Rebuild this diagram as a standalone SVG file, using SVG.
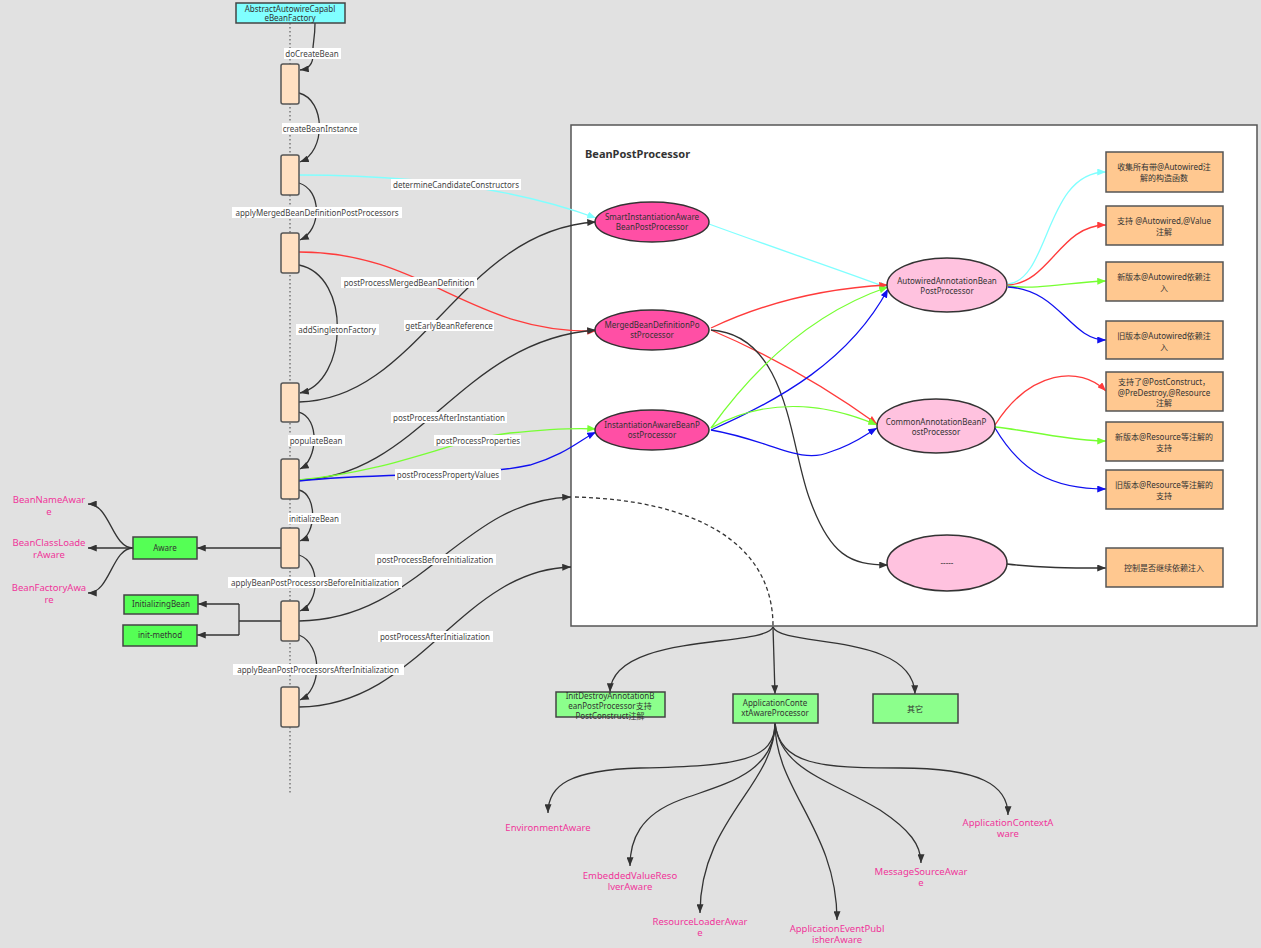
<svg xmlns="http://www.w3.org/2000/svg" width="1261" height="948" viewBox="0 0 1261 948">
<style>
text{font-family:"Noto Sans","Noto Sans CJK SC",sans-serif;font-size:8px;fill:#333;text-anchor:middle}
.lbl{fill:#444}
.pk{fill:#f0359a;font-size:9.5px}
.title{font-size:11px;font-weight:bold;text-anchor:start}
.lab{fill:#fff}
.e{fill:none;stroke-width:1.3}
.k{stroke:#333}
.c{stroke:#80ffff}
.r{stroke:#ff3b3b}
.g{stroke:#77ff33}
.b{stroke:#1010f0}
.act{fill:#ffe0c2;stroke:#555;stroke-width:1.5}
.gr{fill:#55ff55;stroke:#444;stroke-width:1.5}
.lg{fill:#8cff8c;stroke:#444;stroke-width:1.5}
.or{fill:#ffc890;stroke:#555;stroke-width:1.5}
.hp{fill:#ff4fa5;stroke:#333;stroke-width:1.5}
.lp{fill:#ffc2df;stroke:#333;stroke-width:1.5}
</style>
<defs>
<marker id="ak" viewBox="0 0 10 8" refX="10" refY="4" markerWidth="9" markerHeight="7" markerUnits="userSpaceOnUse" orient="auto"><path d="M0,0 L10,4 L0,8 z" fill="#333"/></marker>
<marker id="ac" viewBox="0 0 10 8" refX="10" refY="4" markerWidth="9" markerHeight="7" markerUnits="userSpaceOnUse" orient="auto"><path d="M0,0 L10,4 L0,8 z" fill="#80ffff"/></marker>
<marker id="ar" viewBox="0 0 10 8" refX="10" refY="4" markerWidth="9" markerHeight="7" markerUnits="userSpaceOnUse" orient="auto"><path d="M0,0 L10,4 L0,8 z" fill="#ff3b3b"/></marker>
<marker id="ag" viewBox="0 0 10 8" refX="10" refY="4" markerWidth="9" markerHeight="7" markerUnits="userSpaceOnUse" orient="auto"><path d="M0,0 L10,4 L0,8 z" fill="#77ff33"/></marker>
<marker id="ab" viewBox="0 0 10 8" refX="10" refY="4" markerWidth="9" markerHeight="7" markerUnits="userSpaceOnUse" orient="auto"><path d="M0,0 L10,4 L0,8 z" fill="#1010f0"/></marker>
</defs>
<rect x="0" y="0" width="1261" height="948" fill="#e1e1e1"/>
<g id="frame">
<rect x="571" y="125" width="686" height="501" fill="#fff" stroke="#555" stroke-width="1.5"/>
<text class="title" x="585" y="158">BeanPostProcessor</text>
</g>
<g id="lifeline">
<line x1="290" y1="23" x2="290" y2="793" stroke="#777" stroke-width="1.5" stroke-dasharray="1.5,2.5"/>
</g>
<g id="connectors">
<path class="e k" marker-end="url(#ak)" d="M315,23 C315,40 312,45 313,55 C313,65 308,69 300,70"/>
<path class="e k" marker-end="url(#ak)" d="M299,93 C326,100 326,152 300,162"/>
<path class="e k" marker-end="url(#ak)" d="M299,183 C322,190 322,230 300,240"/>
<path class="e k" marker-end="url(#ak)" d="M299,265 C352,276 348,382 300,393"/>
<path class="e k" marker-end="url(#ak)" d="M299,412 C320,418 318,460 300,469"/>
<path class="e k" marker-end="url(#ak)" d="M299,490 C318,495 316,535 300,541"/>
<path class="e k" marker-end="url(#ak)" d="M299,555 C321,562 320,603 300,611"/>
<path class="e k" marker-end="url(#ak)" d="M299,635 C323,645 322,690 300,700"/>
<path class="e c" marker-end="url(#ac)" d="M299,175 C420,175 520,190 596,218"/>
<path class="e r" marker-end="url(#ar)" d="M299,252 C425,252 470,334 596,331"/>
<path class="e k" marker-end="url(#ak)" d="M299,402 C420,400 460,230 596,222"/>
<path class="e k" marker-end="url(#ak)" d="M299,480 C420,478 460,340 596,330"/>
<path class="e g" marker-end="url(#ag)" d="M299,480 C400,470 450,440 510,433 C560,428 580,428 596,429"/>
<path class="e b" marker-end="url(#ab)" d="M299,481 C380,472 470,478 530,465 C565,455 580,440 596,432"/>
<path class="e k" marker-end="url(#ak)" d="M299,621 C420,620 460,500 571,497"/>
<path class="e k" marker-end="url(#ak)" d="M299,707 C420,706 460,570 571,567"/>
<path class="e k" stroke-dasharray="4,3" d="M575,497 C690,500 773,540 773,626"/>
<path class="e c" marker-end="url(#ac)" d="M709,224 C780,250 840,270 888,288"/>
<path class="e r" marker-end="url(#ar)" d="M711,328 C770,300 830,288 888,285"/>
<path class="e r" marker-end="url(#ar)" d="M711,330 C770,355 830,390 877,424"/>
<path class="e k" marker-end="url(#ak)" d="M711,330 C790,335 790,450 810,500 C830,555 850,565 888,565"/>
<path class="e g" marker-end="url(#ag)" d="M711,428 C760,360 820,310 888,287"/>
<path class="e b" marker-end="url(#ab)" d="M711,430 C780,400 850,360 888,289"/>
<path class="e g" marker-end="url(#ag)" d="M711,428 C770,395 830,405 877,425"/>
<path class="e b" marker-end="url(#ab)" d="M711,430 C770,440 800,465 830,452 C855,444 865,435 877,428"/>
<path class="e c" marker-end="url(#ac)" d="M1008,284 C1050,280 1045,172 1106,172"/>
<path class="e r" marker-end="url(#ar)" d="M1008,285 C1050,283 1060,225 1106,225"/>
<path class="e g" marker-end="url(#ag)" d="M1008,286 C1040,290 1070,282 1106,281"/>
<path class="e b" marker-end="url(#ab)" d="M1008,287 C1060,290 1070,340 1106,340"/>
<path class="e r" marker-end="url(#ar)" d="M995,425 C1030,370 1080,365 1106,391"/>
<path class="e g" marker-end="url(#ag)" d="M995,427 C1040,432 1070,441 1106,441"/>
<path class="e b" marker-end="url(#ab)" d="M995,428 C1020,470 1050,489 1106,489"/>
<path class="e k" marker-end="url(#ak)" d="M1007,564 C1040,568 1070,568 1106,568"/>
<path class="e k" marker-end="url(#ak)" d="M773,627 C765,648 612,632 610,692"/>
<path class="e k" marker-end="url(#ak)" d="M773,627 L775,694"/>
<path class="e k" marker-end="url(#ak)" d="M773,627 C781,648 913,632 915,694"/>
<path class="e k" marker-end="url(#ak)" d="M775,723 C775,760 740,766 640,768 C570,770 548,785 548,813"/>
<path class="e k" marker-end="url(#ak)" d="M775,723 C775,775 720,785 680,800 C640,815 630,840 630,866"/>
<path class="e k" marker-end="url(#ak)" d="M775,723 C775,785 700,820 700,913"/>
<path class="e k" marker-end="url(#ak)" d="M775,723 C775,790 837,830 837,920"/>
<path class="e k" marker-end="url(#ak)" d="M775,723 C780,770 830,780 880,810 C910,830 921,845 921,863"/>
<path class="e k" marker-end="url(#ak)" d="M775,723 C780,765 820,768 900,768 C980,768 1008,785 1008,815"/>
<path class="e k" marker-end="url(#ak)" d="M281,548 L197,548"/>
<path class="e k" marker-end="url(#ak)" d="M133,548 C112,548 110,504 88,504"/>
<path class="e k" marker-end="url(#ak)" d="M133,548 L88,548"/>
<path class="e k" marker-end="url(#ak)" d="M133,548 C112,548 110,593 88,593"/>
<path class="e k" d="M281,621 L239,621 M239,604 L239,635"/>
<path class="e k" marker-end="url(#ak)" d="M239,604 L198,604"/>
<path class="e k" marker-end="url(#ak)" d="M239,635 L197,635"/>
</g>
<g id="labels">
<rect class="lab" x="284" y="48" width="57" height="11"/><text class="lbl" x="312" y="57">doCreateBean</text>
<rect class="lab" x="282" y="123" width="77" height="11"/><text class="lbl" x="320" y="132">createBeanInstance</text>
<rect class="lab" x="232" y="207" width="170" height="11"/><text class="lbl" x="317" y="216">applyMergedBeanDefinitionPostProcessors</text>
<rect class="lab" x="296" y="324" width="83" height="11"/><text class="lbl" x="337" y="333">addSingletonFactory</text>
<rect class="lab" x="288" y="435" width="57" height="11"/><text class="lbl" x="316" y="444">populateBean</text>
<rect class="lab" x="288" y="513" width="53" height="11"/><text class="lbl" x="314" y="522">initializeBean</text>
<rect class="lab" x="228" y="577" width="174" height="11"/><text class="lbl" x="315" y="586">applyBeanPostProcessorsBeforeInitialization</text>
<rect class="lab" x="233" y="664" width="171" height="11"/><text class="lbl" x="318" y="673">applyBeanPostProcessorsAfterInitialization</text>
<rect class="lab" x="391" y="179" width="130" height="11"/><text class="lbl" x="456" y="188">determineCandidateConstructors</text>
<rect class="lab" x="341" y="277" width="136" height="11"/><text class="lbl" x="409" y="286">postProcessMergedBeanDefinition</text>
<rect class="lab" x="404" y="320" width="90" height="11"/><text class="lbl" x="449" y="329">getEarlyBeanReference</text>
<rect class="lab" x="391" y="412" width="116" height="11"/><text class="lbl" x="449" y="421">postProcessAfterInstantiation</text>
<rect class="lab" x="434" y="435" width="87" height="11"/><text class="lbl" x="478" y="444">postProcessProperties</text>
<rect class="lab" x="395" y="469" width="106" height="11"/><text class="lbl" x="448" y="478">postProcessPropertyValues</text>
<rect class="lab" x="375" y="554" width="121" height="11"/><text class="lbl" x="435" y="563">postProcessBeforeInitialization</text>
<rect class="lab" x="378" y="631" width="115" height="11"/><text class="lbl" x="435" y="640">postProcessAfterInitialization</text>
</g>
<g id="factory"><rect x="236" y="3" width="109" height="20" fill="#80ffff" stroke="#444" stroke-width="1.5"/><text x="290" y="12">AbstractAutowireCapabl</text><text x="290" y="21">eBeanFactory</text></g>
<g id="act1"><rect class="act" x="281" y="64" width="18" height="40" rx="2"/></g>
<g id="act2"><rect class="act" x="281" y="155" width="18" height="40" rx="2"/></g>
<g id="act3"><rect class="act" x="281" y="233" width="18" height="40" rx="2"/></g>
<g id="act4"><rect class="act" x="281" y="383" width="18" height="39" rx="2"/></g>
<g id="act5"><rect class="act" x="281" y="459" width="18" height="40" rx="2"/></g>
<g id="act6"><rect class="act" x="281" y="528" width="18" height="40" rx="2"/></g>
<g id="act7"><rect class="act" x="281" y="601" width="18" height="40" rx="2"/></g>
<g id="act8"><rect class="act" x="281" y="687" width="18" height="40" rx="2"/></g>
<g id="smart"><ellipse class="hp" cx="652" cy="222" rx="57" ry="20"/><text x="652" y="220">SmartInstantiationAware</text><text x="652" y="230">BeanPostProcessor</text></g>
<g id="merged"><ellipse class="hp" cx="652" cy="330" rx="57" ry="20"/><text x="652" y="328">MergedBeanDefinitionPo</text><text x="652" y="338">stProcessor</text></g>
<g id="instantiation"><ellipse class="hp" cx="652" cy="430" rx="57" ry="20"/><text x="652" y="428">InstantiationAwareBeanP</text><text x="652" y="438">ostProcessor</text></g>
<g id="autowired"><ellipse class="lp" cx="947" cy="285" rx="60" ry="27"/><text x="947" y="284">AutowiredAnnotationBean</text><text x="947" y="294">PostProcessor</text></g>
<g id="common"><ellipse class="lp" cx="936" cy="426" rx="59" ry="27"/><text x="936" y="425">CommonAnnotationBeanP</text><text x="936" y="435">ostProcessor</text></g>
<g id="others"><ellipse class="lp" cx="947" cy="563" rx="60" ry="28"/><text x="947" y="566">-----</text></g>
<g id="boxA"><rect class="or" x="1106" y="152" width="117" height="40"/><text x="1164" y="170">收集所有带@Autowired注</text><text x="1164" y="181">解的构造函数</text></g>
<g id="boxB"><rect class="or" x="1106" y="206" width="117" height="39"/><text x="1164" y="224">支持 @Autowired,@Value</text><text x="1164" y="235">注解</text></g>
<g id="boxC"><rect class="or" x="1106" y="262" width="117" height="39"/><text x="1164" y="280">新版本@Autowired依赖注</text><text x="1164" y="291">入</text></g>
<g id="boxD"><rect class="or" x="1106" y="321" width="117" height="38"/><text x="1164" y="339">旧版本@Autowired依赖注</text><text x="1164" y="350">入</text></g>
<g id="boxE"><rect class="or" x="1106" y="372" width="117" height="39"/><text x="1164" y="385">支持了@PostConstruct，</text><text x="1164" y="396">@PreDestroy,@Resource</text><text x="1164" y="406">注解</text></g>
<g id="boxF"><rect class="or" x="1106" y="422" width="117" height="39"/><text x="1164" y="440">新版本@Resource等注解的</text><text x="1164" y="451">支持</text></g>
<g id="boxG"><rect class="or" x="1106" y="470" width="117" height="39"/><text x="1164" y="488">旧版本@Resource等注解的</text><text x="1164" y="499">支持</text></g>
<g id="boxH"><rect class="or" x="1106" y="548" width="117" height="39"/><text x="1164" y="571">控制是否继续依赖注入</text></g>
<g id="aware"><rect class="gr" x="133" y="537" width="64" height="22"/><text x="165" y="551">Aware</text></g>
<g id="initializingBean"><rect class="gr" x="124" y="595" width="74" height="19"/><text x="161" y="607">InitializingBean</text></g>
<g id="initMethod"><rect class="gr" x="123" y="625" width="74" height="21"/><text x="160" y="638">init-method</text></g>
<g id="beanNameAware"><text class="pk" x="49" y="503">BeanNameAwar</text><text class="pk" x="49" y="515">e</text></g>
<g id="beanClassLoaderAware"><text class="pk" x="49" y="546">BeanClassLoade</text><text class="pk" x="49" y="558">rAware</text></g>
<g id="beanFactoryAware"><text class="pk" x="49" y="591">BeanFactoryAwa</text><text class="pk" x="49" y="603">re</text></g>
<g id="initDestroy"><rect class="lg" x="556" y="692" width="109" height="25"/><text x="610" y="699">InitDestroyAnnotationB</text><text x="610" y="709">eanPostProcessor支持</text><text x="610" y="719">PostConstruct注解</text></g>
<g id="acap"><rect class="lg" x="733" y="694" width="85" height="29"/><text x="775" y="706">ApplicationConte</text><text x="775" y="716">xtAwareProcessor</text></g>
<g id="qita"><rect class="lg" x="873" y="694" width="85" height="29"/><text x="915" y="712">其它</text></g>
<g id="environmentAware"><text class="pk" x="548" y="831">EnvironmentAware</text></g>
<g id="embeddedValueResolverAware"><text class="pk" x="630" y="879">EmbeddedValueReso</text><text class="pk" x="630" y="890">lverAware</text></g>
<g id="resourceLoaderAware"><text class="pk" x="700" y="925">ResourceLoaderAwar</text><text class="pk" x="700" y="936">e</text></g>
<g id="applicationEventPublisherAware"><text class="pk" x="837" y="932">ApplicationEventPubl</text><text class="pk" x="837" y="943">isherAware</text></g>
<g id="messageSourceAware"><text class="pk" x="921" y="875">MessageSourceAwar</text><text class="pk" x="921" y="886">e</text></g>
<g id="applicationContextAware"><text class="pk" x="1008" y="826">ApplicationContextA</text><text class="pk" x="1008" y="837">ware</text></g>
</svg>
